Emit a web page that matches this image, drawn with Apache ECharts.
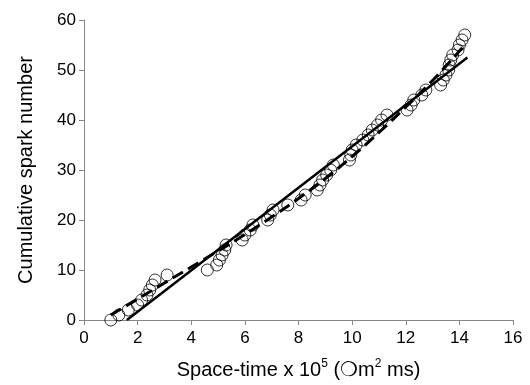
<!DOCTYPE html>
<html>
<head>
<meta charset="utf-8">
<script src="https://cdn.jsdelivr.net/npm/echarts@6/dist/echarts.min.js"></script>
<style>
  html, body { margin: 0; padding: 0; background: #fff; }
  #chart { width: 530px; height: 385px; }
</style>
</head>
<body>
<div id="chart"></div>
<script>
// spark events: space-time (x 10^5) vs cumulative count
const sparkX = [1.0, 1.3, 1.65, 2.0, 2.15, 2.35, 2.45, 2.55, 2.65, 3.1,
  4.6, 4.95, 5.05, 5.15, 5.25, 5.3, 5.9, 6.0, 6.2, 6.3,
  6.85, 6.95, 7.05, 7.6, 8.1, 8.25, 8.7, 8.8, 8.9, 9.05,
  9.2, 9.3, 9.9, 9.95, 10.0, 10.15, 10.4, 10.6, 10.75, 10.95,
  11.1, 11.3, 12.05, 12.2, 12.3, 12.6, 12.75, 13.3, 13.4, 13.5,
  13.6, 13.62, 13.68, 13.75, 13.95, 14.0, 14.1, 14.2]
const sparkY = [0, 1, 2, 3, 4, 5, 6, 7, 8, 9,
  10, 11, 12, 13, 14, 15, 16, 17, 18, 19,
  20, 21, 22, 23, 24, 25, 26, 27, 28, 29,
  30, 31, 32, 33, 34, 35, 36, 37, 38, 39,
  40, 41, 42, 43, 44, 45, 46, 47, 48, 49,
  50, 51, 52, 53, 54, 55, 56, 57]

// straight fit
const fitX = [1.6, 14.3]
const fitY = [0, 52.5]

// dashed curve
const curveX = [1, 2, 3, 4, 5, 6, 7, 8, 9, 10, 11, 12, 13, 14.2]
const curveY = [1, 4.2, 7.4, 10.6, 13.8, 17.1, 20.6, 24.3, 28.3, 32.7, 37.5, 42.6, 47.9, 55]

const xTicks = { min: 0, max: 16, interval: 2 }
const yTicks = { min: 0, max: 60, interval: 10 }

const axisGrey = '#868686'
const font = 'Liberation Sans, Arial, sans-serif'

const chart = echarts.init(document.getElementById('chart'))

const axisCommon = {
  axisLine: { show: true, lineStyle: { color: axisGrey, width: 1 } },
  axisTick: { show: true, inside: false, length: 5, lineStyle: { color: axisGrey } },
  splitLine: { show: false },
  axisLabel: { color: '#000', fontSize: 17, fontFamily: font },
  nameTextStyle: { color: '#000', fontSize: 20, fontFamily: font },
  nameLocation: 'middle',
}

const option = {
  animation: false,
  grid: { left: 84, right: 17, top: 20, bottom: 65 },
  xAxis: {
    ...axisCommon,
    type: 'value',
    ...xTicks,
    axisLabel: { ...axisCommon.axisLabel, margin: 10 },
    name: '{a|Space-time x 10}{s|5}{a| (}{a|❍}{a|m}{s|2}{a| ms)}',
    nameGap: 38,
    nameTextStyle: {
      ...axisCommon.nameTextStyle,
      rich: {
        a: { fontSize: 20, fontFamily: font, color: '#000', verticalAlign: 'bottom', lineHeight: 22 },
        s: { fontSize: 12, fontFamily: font, color: '#000', verticalAlign: 'top', lineHeight: 22 },
      },
    },
  },
  yAxis: {
    ...axisCommon,
    type: 'value',
    ...yTicks,
    axisLabel: { ...axisCommon.axisLabel, margin: 8 },
    name: 'Cumulative spark number',
    nameGap: 48,
  },
  series: [
    {
      type: 'scatter',
      data: sparkX.map((x, i) => [x, sparkY[i]]),
      symbol: 'circle',
      symbolSize: 12,
      itemStyle: { color: 'rgba(0,0,0,0)', borderColor: '#000', borderWidth: 1 },
      z: 2,
    },
    {
      type: 'line',
      data: fitX.map((x, i) => [x, fitY[i]]),
      showSymbol: false,
      lineStyle: { color: '#000', width: 2.5 },
      z: 3,
    },
    {
      type: 'line',
      data: curveX.map((x, i) => [x, curveY[i]]),
      smooth: true,
      showSymbol: false,
      lineStyle: { color: '#000', width: 3, type: [12, 6] },
      z: 3,
    },
  ],
}

chart.setOption(option)
</script>
</body>
</html>
